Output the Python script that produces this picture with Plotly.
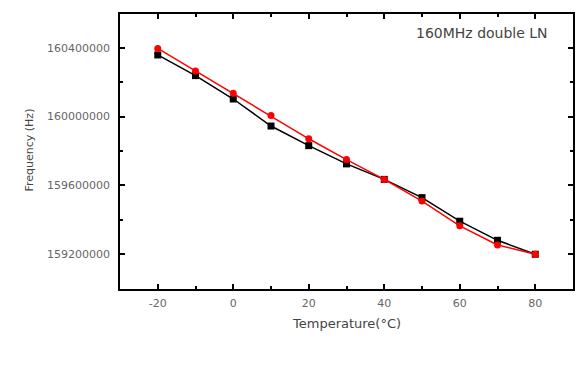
import plotly.graph_objects as go

temperature = [-20, -10, 0, 10, 20, 30, 40, 50, 60, 70, 80]
freq_black = [160358000, 160238000, 160102000, 159945000, 159831000, 159725000,
              159635000, 159529000, 159392000, 159281000, 159200000]
freq_red = [160396000, 160265000, 160136000, 160006000, 159871000, 159750000,
            159635000, 159509000, 159365000, 159254000, 159200000]

x_ticks = [-20, 0, 20, 40, 60, 80]
y_ticks = [159200000, 159600000, 160000000, 160400000]

FONT = "DejaVu Sans, Liberation Sans, sans-serif"
GRAY = "#666666"
DARK = "#444444"

fig = go.Figure()
fig.add_trace(go.Scatter(
    x=temperature, y=freq_black, mode="lines+markers",
    line=dict(color="black", width=1.5),
    marker=dict(symbol="square", size=7, color="black"),
    showlegend=False))
fig.add_trace(go.Scatter(
    x=temperature, y=freq_red, mode="lines+markers",
    line=dict(color="red", width=1.5),
    marker=dict(symbol="circle", size=7, color="red"),
    showlegend=False))

axis_common = dict(
    showline=True, linecolor="black", linewidth=1.5, mirror="ticks",
    ticks="inside", ticklen=5, tickwidth=1.5, tickcolor="black",
    showgrid=False, zeroline=False,
    tickfont=dict(family=FONT, size=11, color=GRAY),
)

fig.update_xaxes(
    range=[-30, 90], tickvals=x_ticks, ticktext=[str(v) for v in x_ticks],
    minor=dict(dtick=10, ticks="inside", ticklen=3, tickwidth=1.5, tickcolor="black"),
    ticklabelstandoff=3,
    **axis_common)
fig.update_yaxes(
    range=[158998000, 160596000], tickvals=y_ticks, ticktext=[str(v) for v in y_ticks],
    minor=dict(tickvals=[159000000, 159400000, 159800000, 160200000], ticks="inside",
               ticklen=3, tickwidth=1.5, tickcolor="black"),
    ticklabelstandoff=6,
    **axis_common)

fig.add_annotation(text="160MHz double LN", xref="paper", yref="paper",
                   x=0.95, y=0.93, xanchor="right", yanchor="middle", showarrow=False,
                   font=dict(family=FONT, size=14, color=DARK))
fig.add_annotation(text="Temperature(°C)", xref="paper", yref="paper",
                   x=0.5, y=-0.127, xanchor="center", yanchor="middle", showarrow=False,
                   font=dict(family=FONT, size=13, color=DARK))
fig.add_annotation(text="Frequency (Hz)", xref="paper", yref="paper",
                   x=-0.2, y=0.505, xanchor="center", yanchor="middle", showarrow=False,
                   textangle=-90,
                   font=dict(family=FONT, size=11, color=DARK))

fig.update_layout(
    width=587, height=379,
    margin=dict(l=120, r=12, t=12, b=90),
    paper_bgcolor="white", plot_bgcolor="white",
)
fig.write_html("out.html")
